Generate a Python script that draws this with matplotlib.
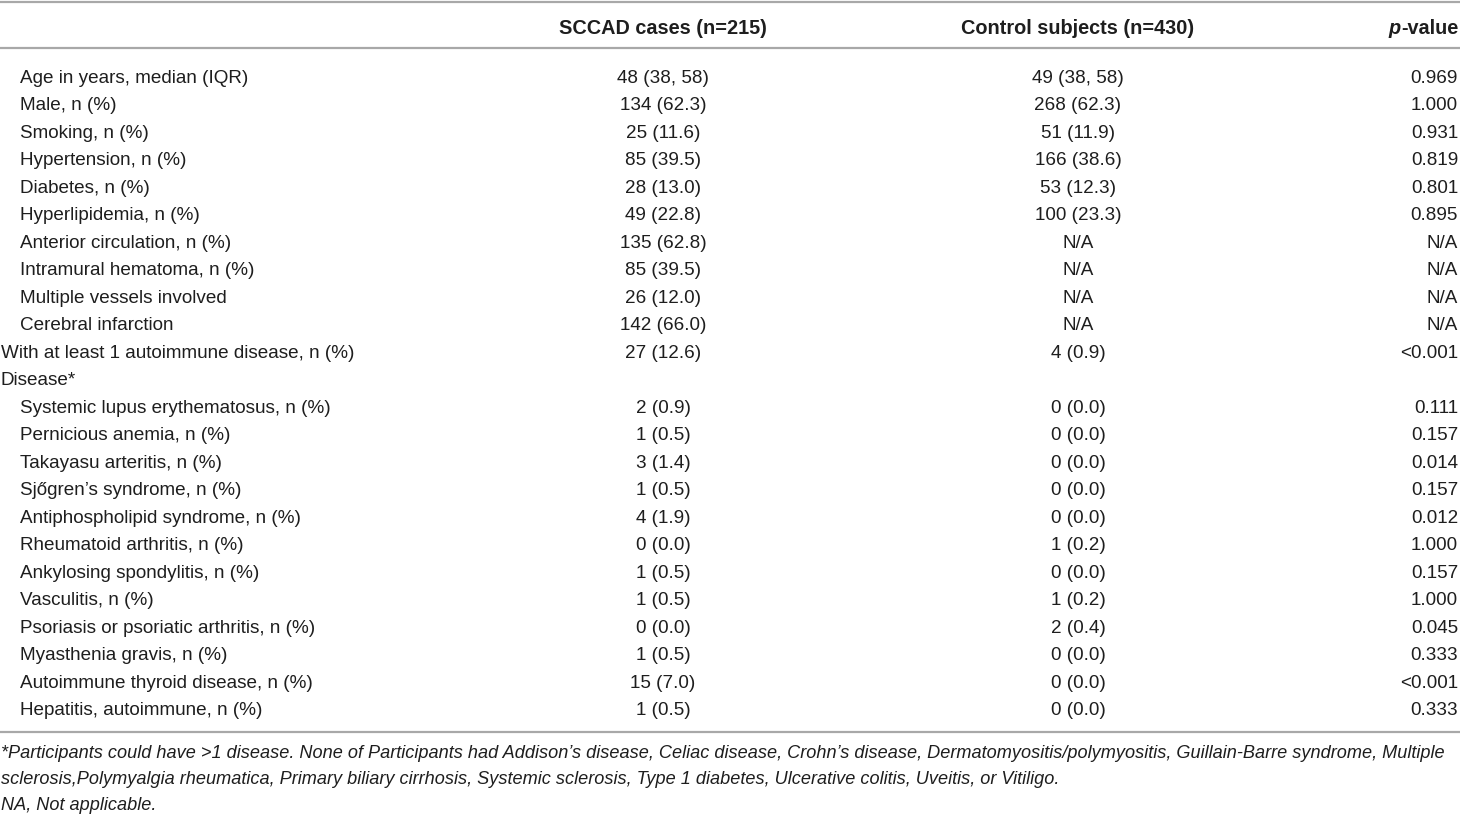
import matplotlib
matplotlib.use("Agg")
import matplotlib.pyplot as plt

plt.rcParams['font.family'] = ['Liberation Sans', 'DejaVu Sans']

headers = ["SCCAD cases (n=215)", "Control subjects (n=430)", "-value"]

labels = [
    "Age in years, median (IQR)", "Male, n (%)", "Smoking, n (%)",
    "Hypertension, n (%)", "Diabetes, n (%)", "Hyperlipidemia, n (%)",
    "Anterior circulation, n (%)", "Intramural hematoma, n (%)",
    "Multiple vessels involved", "Cerebral infarction",
    "With at least 1 autoimmune disease, n (%)", "Disease*",
    "Systemic lupus erythematosus, n (%)", "Pernicious anemia, n (%)",
    "Takayasu arteritis, n (%)", "Sjőgren\u2019s syndrome, n (%)",
    "Antiphospholipid syndrome, n (%)", "Rheumatoid arthritis, n (%)",
    "Ankylosing spondylitis, n (%)", "Vasculitis, n (%)",
    "Psoriasis or psoriatic arthritis, n (%)", "Myasthenia gravis, n (%)",
    "Autoimmune thyroid disease, n (%)", "Hepatitis, autoimmune, n (%)",
]
indented = [1] * 10 + [0, 0] + [1] * 12

sccad = ["48 (38, 58)", "134 (62.3)", "25 (11.6)", "85 (39.5)", "28 (13.0)",
         "49 (22.8)", "135 (62.8)", "85 (39.5)", "26 (12.0)", "142 (66.0)",
         "27 (12.6)", "", "2 (0.9)", "1 (0.5)", "3 (1.4)", "1 (0.5)",
         "4 (1.9)", "0 (0.0)", "1 (0.5)", "1 (0.5)", "0 (0.0)", "1 (0.5)",
         "15 (7.0)", "1 (0.5)"]
control = ["49 (38, 58)", "268 (62.3)", "51 (11.9)", "166 (38.6)", "53 (12.3)",
           "100 (23.3)", "N/A", "N/A", "N/A", "N/A", "4 (0.9)", "",
           "0 (0.0)", "0 (0.0)", "0 (0.0)", "0 (0.0)", "0 (0.0)", "1 (0.2)",
           "0 (0.0)", "1 (0.2)", "2 (0.4)", "0 (0.0)", "0 (0.0)", "0 (0.0)"]
pvals = ["0.969", "1.000", "0.931", "0.819", "0.801", "0.895", "N/A", "N/A",
         "N/A", "N/A", "<0.001", "", "0.111", "0.157", "0.014", "0.157",
         "0.012", "1.000", "0.157", "1.000", "0.045", "0.333", "<0.001",
         "0.333"]

footnotes = [
    "*Participants could have >1 disease. None of Participants had Addison\u2019s disease, Celiac disease, "
    "Crohn\u2019s disease, Dermatomyositis/polymyositis, Guillain-Barre syndrome, Multiple",
    "sclerosis,Polymyalgia rheumatica, Primary biliary cirrhosis, Systemic sclerosis, "
    "Type 1 diabetes, Ulcerative colitis, Uveitis, or Vitiligo.",
    "NA, Not applicable.",
]

W, H = 1460, 815
fig = plt.figure(figsize=(W / 100, H / 100), dpi=100)
ax = fig.add_axes([0, 0, 1, 1])
ax.set_xlim(0, W)
ax.set_ylim(H, 0)
ax.axis('off')

fs = 13.6
hfs = 14.3
col1, col2, col3 = 663, 1078, 1458
line_col = '#a8a8a8'
txt_col = '#1e1e1e'

# rules
for yy in (2, 48, 732):
    ax.plot([0, W], [yy, yy], color=line_col, lw=1.6, solid_capstyle='butt')

# header
hy = 28
ax.text(col1, hy, headers[0], ha='center', va='center', fontsize=hfs, weight='bold', color=txt_col)
ax.text(col2, hy, headers[1], ha='center', va='center', fontsize=hfs, weight='bold', color=txt_col)
tv = ax.text(col3, hy, headers[2], ha='right', va='center', fontsize=hfs, weight='bold', color=txt_col)
fig.canvas.draw()
bb = tv.get_window_extent()
x_left = ax.transData.inverted().transform((bb.x0, bb.y0))[0]
ax.text(x_left, hy, "p", ha='right', va='center', fontsize=hfs, weight='bold',
        style='italic', color=txt_col)

# body rows
y0, dy = 78.5, 27.48
for i, lab in enumerate(labels):
    y = y0 + i * dy
    ax.text(20 if indented[i] else 1, y, lab, ha='left', va='center', fontsize=fs, color=txt_col)
    ax.text(col1, y, sccad[i], ha='center', va='center', fontsize=fs, color=txt_col)
    ax.text(col2, y, control[i], ha='center', va='center', fontsize=fs, color=txt_col)
    ax.text(col3, y, pvals[i], ha='right', va='center', fontsize=fs, color=txt_col)

# footnotes
for j, f in enumerate(footnotes):
    ax.text(1, 753 + j * 26.5, f, ha='left', va='center', fontsize=13.1,
            style='italic', color=txt_col)

fig.savefig("out.png", dpi=100)
